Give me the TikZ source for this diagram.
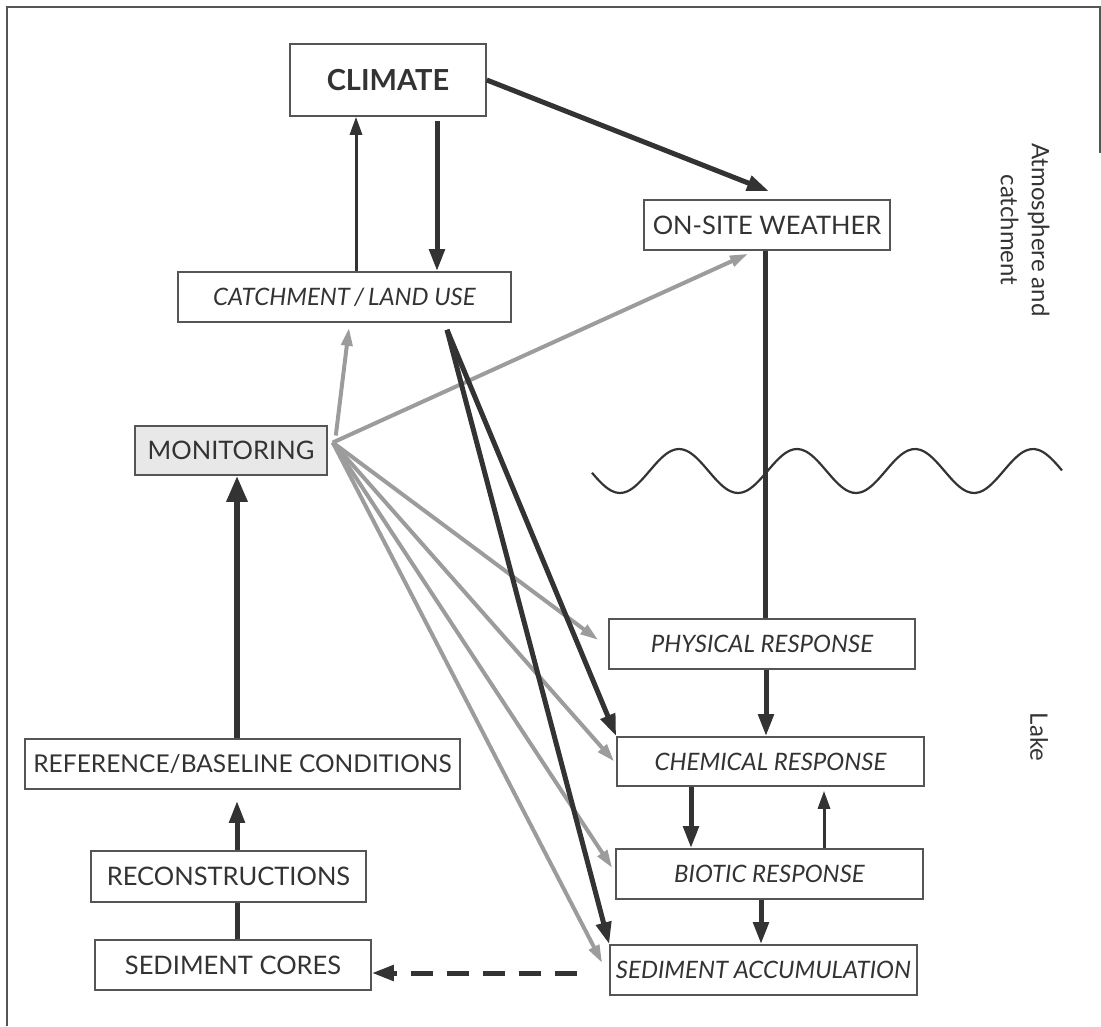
\documentclass[tikz,border=0pt]{standalone}
\usepackage{fontspec}
\setmainfont{Lato}
\usetikzlibrary{arrows.meta,calc}
\definecolor{inkdark}{HTML}{333333}
\definecolor{inkgray}{HTML}{9C9C9C}
\definecolor{boxline}{HTML}{555555}
\tikzset{
	box/.style={draw=boxline, line width=1.6pt, text=inkdark, inner sep=0pt, minimum height=50pt, font=\fontsize{25.5}{29}\selectfont},
	boxit/.style={box, font=\fontsize{24}{28}\selectfont\itshape},
	darkarr/.style={draw=inkdark, line width=5pt, -{Triangle[length=22pt,width=15pt]}},
	thinarr/.style={draw=inkdark, line width=3pt, -{Triangle[length=18pt,width=12pt]}},
	grayarr/.style={draw=inkgray, line width=4pt, -{Triangle[length=18pt,width=11pt]}},
}

\begin{document}
\begin{tikzpicture}[x=1pt, y=-1pt]
		%%%%% START %%%%%
		
		\useasboundingbox (0,0) rectangle (1101,1026);
		\draw[boxline, line width=1.5pt] (7,1026) -- (7,7) -- (1100,7) -- (1100,153);
		
		\node[box, font=\fontsize{29}{33}\selectfont\bfseries, minimum width=196pt, minimum height=72pt] (climate) at (388,80) {CLIMATE};
		\node[box, minimum width=246pt] (weather) at (767,225) {ON-SITE WEATHER};
		\node[boxit, minimum width=333pt] (catch) at (344.5,297) {CATCHMENT\,/\,LAND USE};
		\node[box, fill=gray!18, minimum width=192pt, minimum height=49pt] (monitor) at (231,450.5) {MONITORING};
		
		\node[box, font=\fontsize{24.5}{28}\selectfont, minimum width=435pt] (refbase) at (242.5,764) {REFERENCE/BASELINE CONDITIONS};
		\node[box, minimum width=275pt, minimum height=51pt] (recon) at (228.5,876.5) {RECONSTRUCTIONS};
		\node[box, minimum width=276pt] (cores) at (233,965) {SEDIMENT CORES};
		
		\node[boxit, minimum width=306pt] (phys) at (762,644) {PHYSICAL RESPONSE};
		\node[boxit, minimum width=307pt, minimum height=49pt] (chem) at (770.5,761.5) {CHEMICAL RESPONSE};
		\node[boxit, minimum width=307pt] (biotic) at (769.5,874) {BIOTIC RESPONSE};
		\node[boxit, minimum width=307pt] (sedacc) at (763.5,970) {SEDIMENT ACCUMULATION};
		
		\node[text=inkdark, rotate=-90, align=center, font=\fontsize{24}{31}\selectfont] (atmo) at (1025,230) {Atmosphere and\\catchment};
		\node[text=inkdark, rotate=-90, font=\fontsize{24}{31}\selectfont] (lake) at (1039,737) {Lake};
		
		% water surface
		\draw[inkdark, line width=2.2pt] plot[domain=592:1062, samples=120, smooth] (\x,{471+22*cos(3.0508*(\x-620))});
		
		% atmosphere and catchment
		\draw[thinarr] ([xshift=11.5pt]catch.north) -- ([xshift=-32pt]climate.south);
		\draw[darkarr] ([xshift=49pt,yshift=-4pt]climate.south) -- ([xshift=92.5pt]catch.north);
		\draw[darkarr] (climate.east) -- ([xshift=2pt,yshift=8pt]weather.north);
		\draw[inkdark, line width=5pt] ([xshift=-2pt]weather.south) -- ([xshift=3pt]phys.north);
		
		% lake
		\draw[darkarr] ([xshift=4pt]phys.south) -- ([xshift=-4.5pt]chem.north);
		\draw[darkarr] ([xshift=-79.5pt]chem.south) -- ([xshift=-78.5pt]biotic.north);
		\draw[thinarr] ([xshift=54.5pt]biotic.north) -- ([xshift=53.5pt,yshift=-4pt]chem.south);
		\draw[darkarr] ([xshift=-8.5pt]biotic.south) -- ([xshift=-2.5pt]sedacc.north);
		
		% monitoring
		\draw[grayarr] ([xshift=8pt,yshift=15pt]monitor.east) -- ([xshift=4.5pt,yshift=-5pt]catch.south);
		\draw[grayarr] ([xshift=5pt,yshift=8pt]monitor.east) -- ([xshift=-19pt,yshift=-3pt]weather.south);
		\draw[grayarr] ([xshift=5pt,yshift=8pt]monitor.east) -- ([xshift=-10pt,yshift=4pt]phys.west);
		\draw[grayarr] ([xshift=5pt,yshift=8pt]monitor.east) -- ([xshift=-2pt]chem.west);
		\draw[grayarr] ([xshift=5pt,yshift=8pt]monitor.east) -- ([xshift=-3pt,yshift=6pt]biotic.west);
		\draw[grayarr] ([xshift=5pt,yshift=8pt]monitor.east) -- ([xshift=-7pt,yshift=7pt]sedacc.west);
		
		\draw[darkarr] ([xshift=102.5pt,yshift=-7pt]catch.south) -- (chem.north west);
		\draw[darkarr] ([xshift=102.5pt,yshift=-7pt]catch.south) -- (sedacc.north west);
		
		% sediment record
		\draw[darkarr, dash pattern=on 22pt off 14pt] ([xshift=-32pt,yshift=-3pt]sedacc.west) -- ([yshift=-8pt]cores.east);
		\draw[inkdark, line width=5pt] ([xshift=4pt]cores.north) -- ([xshift=8.5pt]recon.south);
		\draw[darkarr] ([xshift=8.5pt]recon.north) -- ([xshift=-5.5pt,yshift=-11pt]refbase.south);
		\draw[inkdark, line width=6pt, -{Triangle[length=26pt,width=20pt]}] ([xshift=-5.5pt]refbase.north) -- ([xshift=6pt]monitor.south);
		
		%%%%% END %%%%%
\end{tikzpicture}
\end{document}
